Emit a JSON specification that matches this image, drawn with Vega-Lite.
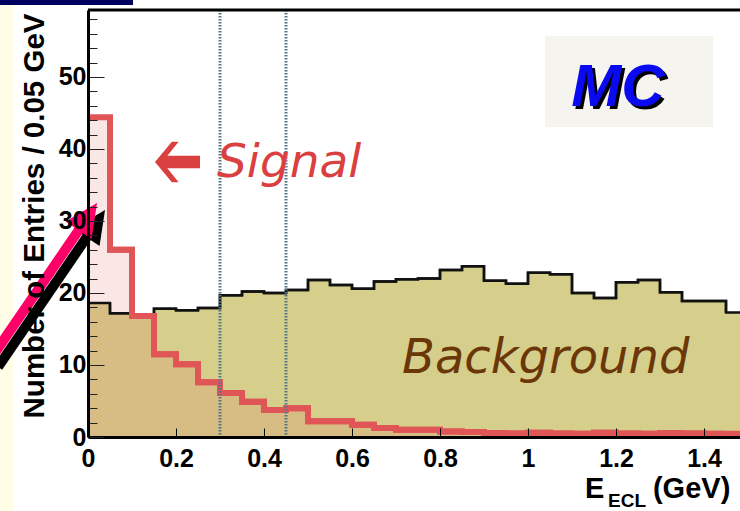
{
  "$schema": "https://vega.github.io/schema/vega-lite/v6.json",
  "width": 652,
  "height": 427,
  "autosize": {"type": "none"},
  "padding": {"left": 88, "top": 10, "right": 0, "bottom": 74},
  "background": "#ffffff",
  "config": {
    "view": {"stroke": null},
    "font": "Liberation Sans",
    "axis": {"labelOverlap": false, "labelBound": false}
  },
  "datasets": {
    "bins": [
      {"series": "Background", "lo": 0.00, "hi": 0.05, "n": 18.6},
      {"series": "Background", "lo": 0.05, "hi": 0.10, "n": 17.2},
      {"series": "Background", "lo": 0.10, "hi": 0.15, "n": 17.0},
      {"series": "Background", "lo": 0.15, "hi": 0.20, "n": 17.8},
      {"series": "Background", "lo": 0.20, "hi": 0.25, "n": 17.6},
      {"series": "Background", "lo": 0.25, "hi": 0.30, "n": 17.9},
      {"series": "Background", "lo": 0.30, "hi": 0.35, "n": 19.7},
      {"series": "Background", "lo": 0.35, "hi": 0.40, "n": 20.2},
      {"series": "Background", "lo": 0.40, "hi": 0.45, "n": 20.0},
      {"series": "Background", "lo": 0.45, "hi": 0.50, "n": 20.4},
      {"series": "Background", "lo": 0.50, "hi": 0.55, "n": 21.8},
      {"series": "Background", "lo": 0.55, "hi": 0.60, "n": 21.1},
      {"series": "Background", "lo": 0.60, "hi": 0.65, "n": 20.6},
      {"series": "Background", "lo": 0.65, "hi": 0.70, "n": 21.6},
      {"series": "Background", "lo": 0.70, "hi": 0.75, "n": 21.9},
      {"series": "Background", "lo": 0.75, "hi": 0.80, "n": 22.0},
      {"series": "Background", "lo": 0.80, "hi": 0.85, "n": 23.2},
      {"series": "Background", "lo": 0.85, "hi": 0.90, "n": 23.7},
      {"series": "Background", "lo": 0.90, "hi": 0.95, "n": 21.7},
      {"series": "Background", "lo": 0.95, "hi": 1.00, "n": 21.3},
      {"series": "Background", "lo": 1.00, "hi": 1.05, "n": 22.8},
      {"series": "Background", "lo": 1.05, "hi": 1.10, "n": 22.6},
      {"series": "Background", "lo": 1.10, "hi": 1.15, "n": 20.0},
      {"series": "Background", "lo": 1.15, "hi": 1.20, "n": 19.3},
      {"series": "Background", "lo": 1.20, "hi": 1.25, "n": 21.5},
      {"series": "Background", "lo": 1.25, "hi": 1.30, "n": 21.8},
      {"series": "Background", "lo": 1.30, "hi": 1.35, "n": 20.1},
      {"series": "Background", "lo": 1.35, "hi": 1.40, "n": 18.9},
      {"series": "Background", "lo": 1.40, "hi": 1.45, "n": 18.9},
      {"series": "Background", "lo": 1.45, "hi": 1.50, "n": 17.3},
      {"series": "Signal", "lo": 0.00, "hi": 0.05, "n": 44.4},
      {"series": "Signal", "lo": 0.05, "hi": 0.10, "n": 26.0},
      {"series": "Signal", "lo": 0.10, "hi": 0.15, "n": 16.8},
      {"series": "Signal", "lo": 0.15, "hi": 0.20, "n": 11.5},
      {"series": "Signal", "lo": 0.20, "hi": 0.25, "n": 10.1},
      {"series": "Signal", "lo": 0.25, "hi": 0.30, "n": 7.6},
      {"series": "Signal", "lo": 0.30, "hi": 0.35, "n": 6.1},
      {"series": "Signal", "lo": 0.35, "hi": 0.40, "n": 4.9},
      {"series": "Signal", "lo": 0.40, "hi": 0.45, "n": 3.75},
      {"series": "Signal", "lo": 0.45, "hi": 0.50, "n": 4.0},
      {"series": "Signal", "lo": 0.50, "hi": 0.55, "n": 2.2},
      {"series": "Signal", "lo": 0.55, "hi": 0.60, "n": 2.2},
      {"series": "Signal", "lo": 0.60, "hi": 0.65, "n": 1.7},
      {"series": "Signal", "lo": 0.65, "hi": 0.70, "n": 1.25},
      {"series": "Signal", "lo": 0.70, "hi": 0.75, "n": 1.0},
      {"series": "Signal", "lo": 0.75, "hi": 0.80, "n": 1.0},
      {"series": "Signal", "lo": 0.80, "hi": 0.85, "n": 0.75},
      {"series": "Signal", "lo": 0.85, "hi": 0.90, "n": 0.7},
      {"series": "Signal", "lo": 0.90, "hi": 0.95, "n": 0.55},
      {"series": "Signal", "lo": 0.95, "hi": 1.00, "n": 0.5},
      {"series": "Signal", "lo": 1.00, "hi": 1.05, "n": 0.6},
      {"series": "Signal", "lo": 1.05, "hi": 1.10, "n": 0.5},
      {"series": "Signal", "lo": 1.10, "hi": 1.15, "n": 0.45},
      {"series": "Signal", "lo": 1.15, "hi": 1.20, "n": 0.6},
      {"series": "Signal", "lo": 1.20, "hi": 1.25, "n": 0.5},
      {"series": "Signal", "lo": 1.25, "hi": 1.30, "n": 0.45},
      {"series": "Signal", "lo": 1.30, "hi": 1.35, "n": 0.55},
      {"series": "Signal", "lo": 1.35, "hi": 1.40, "n": 0.5},
      {"series": "Signal", "lo": 1.40, "hi": 1.45, "n": 0.45},
      {"series": "Signal", "lo": 1.45, "hi": 1.50, "n": 0.45}
    ],
    "cuts": [{"cut": 0.3}, {"cut": 0.45}]
  },
  "layer": [
    {
      "data": {"values": [{}]},
      "mark": {"type": "rect", "color": "#fffde6"},
      "encoding": {
        "x": {"datum": -0.2, "type": "quantitative"}, "x2": {"datum": -0.1705},
        "y": {"datum": 60.0, "type": "quantitative"}, "y2": {"datum": -10.3}
      }
    },
    {
      "data": {"values": [{}]},
      "mark": {"type": "rect", "color": "#00005e"},
      "encoding": {
        "x": {"datum": -0.2, "type": "quantitative"}, "x2": {"datum": 0.1023},
        "y": {"datum": 60.7, "type": "quantitative"}, "y2": {"datum": 60.0}
      }
    },
    {
      "data": {"values": [{}]},
      "mark": {"type": "rect", "color": "#f5f4ee"},
      "encoding": {
        "x": {"datum": 1.0386, "type": "quantitative"}, "x2": {"datum": 1.4205},
        "y": {"datum": 55.69, "type": "quantitative"}, "y2": {"datum": 43.06}
      }
    },
    {
      "data": {"name": "bins"},
      "transform": [{"filter": "datum.series === 'Background'"}],
      "mark": {"type": "rect", "color": "#d5cf8b"},
      "encoding": {
        "x": {
          "field": "lo", "type": "quantitative",
          "scale": {"domain": [0, 1.481818], "nice": false, "zero": false},
          "axis": {
            "title": null,
            "values": [0, 0.2, 0.4, 0.6, 0.8, 1, 1.2, 1.4],
            "tickCount": 40,
            "format": "~g",
            "grid": false,
            "zindex": 1,
            "domainColor": "#000000", "domainWidth": 3,
            "tickColor": "#000000", "tickWidth": 1, "tickSize": -9,
            "labelFont": "Liberation Sans", "labelFontWeight": "bold",
            "labelFontSize": 25, "labelColor": "#000000",
            "labelPadding": 18, "labelFlush": false, "labelOverlap": false
          }
        },
        "x2": {"field": "hi"},
        "y": {
          "field": "n", "type": "quantitative",
          "scale": {"domain": [0, 59.3], "nice": false},
          "axis": {
            "title": "Number of Entries / 0.05 GeV",
            "titleFont": "Liberation Sans", "titleFontWeight": "bold",
            "titleFontSize": 29.5, "titleColor": "#000000",
            "titleAngle": -90, "titleAlign": "right", "titleAnchor": "end",
            "titleBaseline": "alphabetic", "titleX": -45, "titleY": 3,
            "values": [0, 2, 4, 6, 8, 10, 12, 14, 16, 18, 20, 22, 24, 26, 28, 30, 32, 34, 36, 38, 40, 42, 44, 46, 48, 50, 52, 54, 56, 58],
            "tickCount": 40,
            "labelExpr": "datum.value % 10 === 0 ? datum.label : ''",
            "grid": false,
            "zindex": 1,
            "domainColor": "#000000", "domainWidth": 3,
            "tickColor": "#222222", "tickWidth": 1,
            "tickSize": {"condition": {"test": "datum.value % 10 === 0", "value": -16}, "value": -9},
            "labelFont": "Liberation Sans", "labelFontWeight": "bold",
            "labelFontSize": 25, "labelColor": "#000000",
            "labelPadding": 18, "labelFlush": false, "labelOverlap": false
          }
        },
        "y2": {"datum": 0}
      }
    },
    {
      "data": {"name": "bins"},
      "transform": [{"filter": "datum.series === 'Signal'"}],
      "mark": {"type": "rect", "color": "#e25a5a", "opacity": 0.15},
      "encoding": {
        "x": {"field": "lo", "type": "quantitative"},
        "x2": {"field": "hi"},
        "y": {"field": "n", "type": "quantitative"},
        "y2": {"datum": 0}
      }
    },
    {
      "data": {"name": "bins"},
      "transform": [{"filter": "datum.series === 'Background'"}],
      "mark": {"type": "line", "interpolate": "step-after", "color": "#111111", "strokeWidth": 2.5},
      "encoding": {
        "x": {"field": "lo", "type": "quantitative"},
        "y": {"field": "n", "type": "quantitative"}
      }
    },
    {
      "data": {"name": "bins"},
      "transform": [{"filter": "datum.series === 'Background'"}],
      "mark": {"type": "line", "interpolate": "step-before", "color": "#111111", "strokeWidth": 2.5},
      "encoding": {
        "x": {"field": "hi", "type": "quantitative"},
        "y": {"field": "n", "type": "quantitative"}
      }
    },
    {
      "data": {"name": "bins"},
      "transform": [{"filter": "datum.series === 'Signal'"}],
      "mark": {"type": "line", "interpolate": "step-after", "color": "#e05656", "strokeWidth": 6},
      "encoding": {
        "x": {"field": "lo", "type": "quantitative"},
        "y": {"field": "n", "type": "quantitative"}
      }
    },
    {
      "data": {"name": "bins"},
      "transform": [{"filter": "datum.series === 'Signal'"}],
      "mark": {"type": "line", "interpolate": "step-before", "color": "#e05656", "strokeWidth": 6},
      "encoding": {
        "x": {"field": "hi", "type": "quantitative"},
        "y": {"field": "n", "type": "quantitative"}
      }
    },
    {
      "data": {"name": "cuts"},
      "mark": {"type": "rule", "color": "#52768a", "strokeWidth": 3, "strokeDash": [1.5, 1.5]},
      "encoding": {"x": {"field": "cut", "type": "quantitative"}}
    },
    {
      "data": {"values": [{}]},
      "mark": {"type": "rule", "color": "#000000", "strokeWidth": 3},
      "encoding": {"y": {"datum": 59.3, "type": "quantitative"}}
    },
    {
      "data": {"values": [{}]},
      "mark": {"type": "point", "filled": true, "opacity": 1, "strokeWidth": 0, "color": "#d9403f", "size": 2025,
        "shape": "M-1,0L-0.25,-0.9L0.05,-0.9L-0.45,-0.28L1,-0.28L1,0.28L-0.45,0.28L0.05,0.9L-0.25,0.9Z"},
      "encoding": {
        "x": {"datum": 0.2034, "type": "quantitative"},
        "y": {"datum": 38.19, "type": "quantitative"}
      }
    },
    {
      "data": {"values": [{}]},
      "mark": {"type": "text", "text": "Signal", "font": "DejaVu Sans", "fontStyle": "italic", "fontSize": 47,
        "color": "#d9403f", "align": "left", "baseline": "alphabetic"},
      "encoding": {
        "x": {"datum": 0.2932, "type": "quantitative"},
        "y": {"datum": 36.1, "type": "quantitative"}
      }
    },
    {
      "data": {"values": [{}]},
      "mark": {"type": "text", "text": "Background", "font": "DejaVu Sans", "fontStyle": "italic", "fontSize": 48,
        "color": "#6b3608", "align": "left", "baseline": "alphabetic"},
      "encoding": {
        "x": {"datum": 0.7136, "type": "quantitative"},
        "y": {"datum": 8.89, "type": "quantitative"}
      }
    },
    {
      "data": {"values": [{}]},
      "mark": {"type": "text", "text": "MC", "font": "Liberation Sans", "fontStyle": "italic", "fontWeight": "bold",
        "fontSize": 60, "color": "#000000", "align": "center", "baseline": "alphabetic"},
      "encoding": {
        "x": {"datum": 1.2114, "type": "quantitative"},
        "y": {"datum": 45.56, "type": "quantitative"}
      }
    },
    {
      "data": {"values": [{}]},
      "mark": {"type": "text", "text": "MC", "font": "Liberation Sans", "fontStyle": "italic", "fontWeight": "bold",
        "fontSize": 60, "color": "#0a0af0", "align": "center", "baseline": "alphabetic"},
      "encoding": {
        "x": {"datum": 1.2045, "type": "quantitative"},
        "y": {"datum": 45.97, "type": "quantitative"}
      }
    },
    {
      "data": {"values": [{}]},
      "mark": {"type": "text", "text": "E", "font": "Liberation Sans", "fontWeight": "bold", "fontSize": 29,
        "color": "#000000", "align": "left", "baseline": "alphabetic"},
      "encoding": {
        "x": {"datum": 1.1295, "type": "quantitative"},
        "y": {"datum": -8.47, "type": "quantitative"}
      }
    },
    {
      "data": {"values": [{}]},
      "mark": {"type": "text", "text": "ECL", "font": "Liberation Sans", "fontWeight": "bold", "fontSize": 19,
        "color": "#000000", "align": "left", "baseline": "alphabetic"},
      "encoding": {
        "x": {"datum": 1.1818, "type": "quantitative"},
        "y": {"datum": -9.72, "type": "quantitative"}
      }
    },
    {
      "data": {"values": [{}]},
      "mark": {"type": "text", "text": "(GeV)", "font": "Liberation Sans", "fontWeight": "bold", "fontSize": 29,
        "color": "#000000", "align": "left", "baseline": "alphabetic"},
      "encoding": {
        "x": {"datum": 1.284, "type": "quantitative"},
        "y": {"datum": -8.47, "type": "quantitative"}
      }
    },
    {
      "data": {"values": [{}]},
      "mark": {"type": "rule", "color": "#000000", "strokeWidth": 10},
      "encoding": {
        "x": {"datum": -0.2045, "type": "quantitative"}, "x2": {"datum": 0.0068},
        "y": {"datum": 9.72, "type": "quantitative"}, "y2": {"datum": 28.61}
      }
    },
    {
      "data": {"values": [{}]},
      "mark": {"type": "point", "filled": true, "opacity": 1, "strokeWidth": 0, "color": "#000000", "size": 1089,
        "angle": 34, "shape": "M0,-1L0.95,1L-0.95,1Z"},
      "encoding": {
        "x": {"datum": 0.0177, "type": "quantitative"},
        "y": {"datum": 29.63, "type": "quantitative"}
      }
    },
    {
      "data": {"values": [{}]},
      "mark": {"type": "rule", "color": "#ff0068", "strokeWidth": 10},
      "encoding": {
        "x": {"datum": -0.2227, "type": "quantitative"}, "x2": {"datum": -0.0114},
        "y": {"datum": 10.69, "type": "quantitative"}, "y2": {"datum": 29.58}
      }
    },
    {
      "data": {"values": [{}]},
      "mark": {"type": "point", "filled": true, "opacity": 1, "strokeWidth": 0, "color": "#ff0068", "size": 1089,
        "angle": 34, "shape": "M0,-1L0.95,1L-0.95,1Z"},
      "encoding": {
        "x": {"datum": -0.0005, "type": "quantitative"},
        "y": {"datum": 30.6, "type": "quantitative"}
      }
    }
  ]
}
